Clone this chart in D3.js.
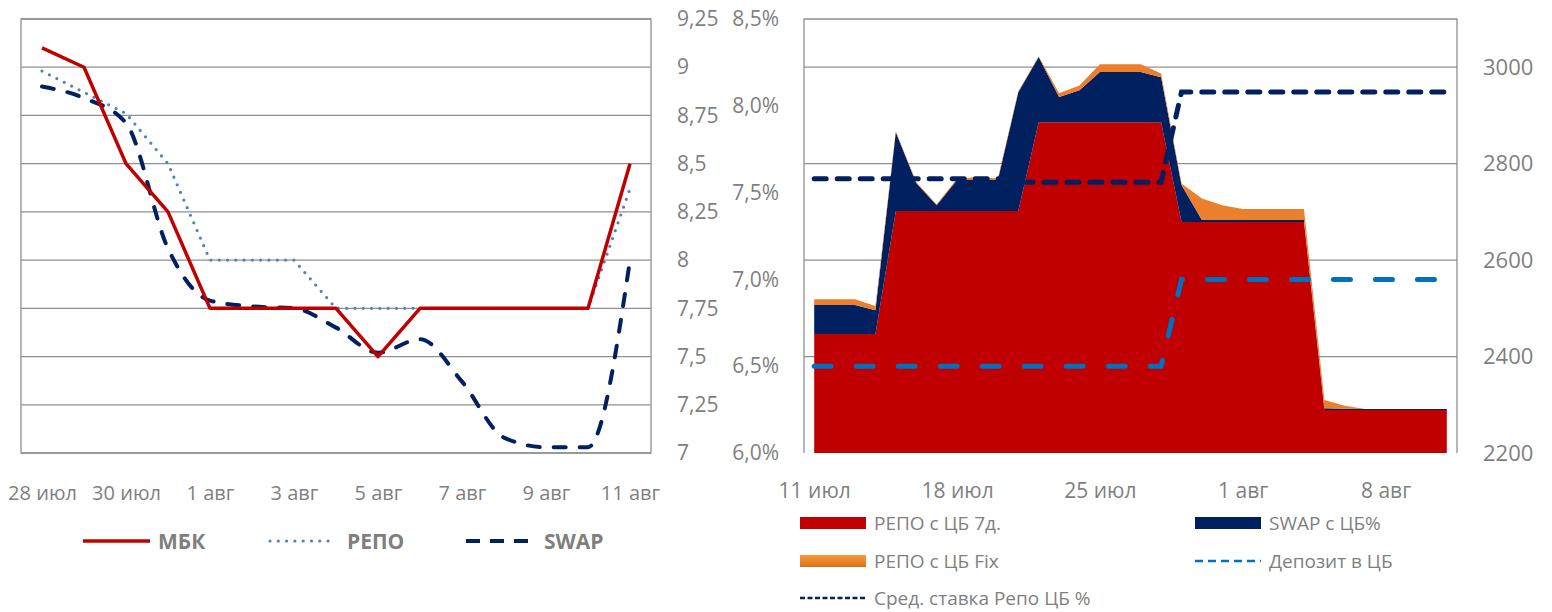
<!DOCTYPE html>
<html>
<head>
<meta charset="utf-8">
<script src="https://cdn.jsdelivr.net/npm/d3@7"></script>
<style>
  body { margin: 0; background: #fff; }
  svg { display: block; }
  text { font-family: "Open Sans", "Noto Sans", sans-serif; fill: #7f7f7f; }
</style>
</head>
<body>
<div id="chart"></div>
<script>
// ---- left chart: interbank rates, % ----
const leftDays = ["28 июл", "29 июл", "30 июл", "31 июл", "1 авг", "2 авг", "3 авг", "4 авг",
                  "5 авг", "6 авг", "7 авг", "8 авг", "9 авг", "10 авг", "11 авг"];
const mbkRate  = [9.10, 9.00, 8.50, 8.25, 7.75, 7.75, 7.75, 7.75, 7.50, 7.75, 7.75, 7.75, 7.75, 7.75, 8.50];
const repoRate = [8.98, 8.87, 8.76, 8.50, 8.00, 8.00, 8.00, 7.75, 7.75, 7.75, 7.75, 7.75, 7.75, 7.75, 8.37];
const swapRate = [8.90, 8.84, 8.71, 8.06, 7.79, 7.76, 7.75, 7.65, 7.52, 7.59, 7.37, 7.08, 7.03, 7.03, 8.00];
const leftTicks = [7, 7.25, 7.5, 7.75, 8, 8.25, 8.5, 8.75, 9, 9.25];

// ---- right chart: CBR operations (volumes) and rates ----
const rightDays = ["2014-07-11", "2014-07-12", "2014-07-13", "2014-07-14", "2014-07-15", "2014-07-16",
                   "2014-07-17", "2014-07-18", "2014-07-19", "2014-07-20", "2014-07-21", "2014-07-22",
                   "2014-07-23", "2014-07-24", "2014-07-25", "2014-07-26", "2014-07-27", "2014-07-28",
                   "2014-07-29", "2014-07-30", "2014-07-31", "2014-08-01", "2014-08-02", "2014-08-03",
                   "2014-08-04", "2014-08-05", "2014-08-06", "2014-08-07", "2014-08-08", "2014-08-09",
                   "2014-08-10", "2014-08-11"];
const repoCb7d  = [2447, 2447, 2447, 2447, 2702, 2702, 2702, 2702, 2702, 2702, 2702, 2886, 2886, 2886, 2886, 2886,
                   2886, 2886, 2679, 2679, 2679, 2679, 2679, 2679, 2679, 2289, 2289, 2289, 2289, 2289, 2289, 2289];
const swapCb    = [60, 60, 60, 49, 163, 58, 12, 64, 64, 64, 246, 135, 52, 66, 104, 104,
                   104, 93, 77, 4, 4, 4, 4, 4, 4, 4, 3, 2, 2, 2, 2, 2];
const repoCbFix = [12, 12, 12, 9, 2, 2, 2, 3, 6, 3, 2, 2, 8, 10, 16, 16,
                   16, 8, 3, 45, 31, 23, 23, 23, 23, 17, 6, 0, 0, 0, 0, 0];
const depositCb = [6.5, 6.5, 6.5, 6.5, 6.5, 6.5, 6.5, 6.5, 6.5, 6.5, 6.5, 6.5, 6.5, 6.5, 6.5, 6.5,
                   6.5, 6.5, 7.0, 7.0, 7.0, 7.0, 7.0, 7.0, 7.0, 7.0, 7.0, 7.0, 7.0, 7.0, 7.0, 7.0];
const avgRepoCb = [7.58, 7.58, 7.58, 7.58, 7.58, 7.58, 7.58, 7.58, 7.58, 7.58, 7.56, 7.56, 7.56, 7.56, 7.56, 7.56,
                   7.56, 7.56, 8.08, 8.08, 8.08, 8.08, 8.08, 8.08, 8.08, 8.08, 8.08, 8.08, 8.08, 8.08, 8.08, 8.08];
const pctTicks  = [6, 6.5, 7, 7.5, 8, 8.5];
const volTicks  = [2200, 2400, 2600, 2800, 3000];
const dateTicks = ["2014-07-11", "2014-07-18", "2014-07-25", "2014-08-01", "2014-08-08"];
const monthsRu  = ["янв", "фев", "мар", "апр", "май", "июн", "июл", "авг", "сен", "окт", "ноя", "дек"];

const gridColor = "#8f8f8f";
const red = "#c00000", navy = "#002060", lightBlue = "#4f81bd", blue = "#0070c0", orange = "#ec7f2c";

const svg = d3.select("#chart").append("svg")
    .attr("width", 1552)
    .attr("height", 612);

const defs = svg.append("defs");
const og = defs.append("linearGradient").attr("id", "orangeGrad")
    .attr("x1", 0).attr("y1", 0).attr("x2", 0).attr("y2", 1);
og.append("stop").attr("offset", "0%").attr("stop-color", "#fb9a3c");
og.append("stop").attr("offset", "100%").attr("stop-color", "#d9711c");

const commaFmt = d => String(d).replace(".", ",");

function styleAxis(g, size) {
    g.select(".domain").remove();
    g.attr("font-size", size).attr("font-family", null);
}

// =================== LEFT CHART ===================
const L = { left: 21, right: 651, top: 19, bottom: 453 };
const xL = d3.scalePoint().domain(leftDays).range([L.left, L.right]).padding(0.5);
const yL = d3.scaleLinear().domain([7, 9.25]).range([L.bottom, L.top]);

// gridlines + frame
svg.append("g").selectAll("line")
    .data(leftTicks)
    .join("line")
    .attr("x1", L.left).attr("x2", L.right)
    .attr("y1", d => yL(d)).attr("y2", d => yL(d))
    .attr("stroke", gridColor).attr("stroke-width", 1.3);
svg.append("rect")
    .attr("x", L.left).attr("y", L.top)
    .attr("width", L.right - L.left).attr("height", L.bottom - L.top)
    .attr("fill", "none").attr("stroke", gridColor).attr("stroke-width", 1.3);

// axes
svg.append("g")
    .attr("transform", "translate(" + L.right + ",0)")
    .call(d3.axisRight(yL).tickValues(leftTicks).tickFormat(commaFmt).tickSize(0).tickPadding(26))
    .call(g => styleAxis(g, 21));
svg.append("g")
    .attr("transform", "translate(0," + L.bottom + ")")
    .call(d3.axisBottom(xL).tickValues(leftDays.filter((d, i) => i % 2 === 0)).tickSize(0).tickPadding(33))
    .call(g => styleAxis(g, 20));

// lines
const lineL = d3.line().x((d, i) => xL(leftDays[i])).y(d => yL(d));
svg.append("path")
    .datum(swapRate)
    .attr("fill", "none").attr("stroke", navy).attr("stroke-width", 4)
    .attr("stroke-dasharray", "12,14").attr("stroke-linecap", "round")
    .attr("d", lineL.curve(d3.curveMonotoneX));
svg.append("path")
    .datum(repoRate)
    .attr("fill", "none").attr("stroke", lightBlue).attr("stroke-width", 3.2)
    .attr("stroke-dasharray", "0,8.3").attr("stroke-linecap", "round")
    .attr("d", d3.line().x((d, i) => xL(leftDays[i])).y(d => yL(d)));
svg.append("path")
    .datum(mbkRate)
    .attr("fill", "none").attr("stroke", red).attr("stroke-width", 3.5)
    .attr("stroke-linejoin", "round")
    .attr("d", d3.line().x((d, i) => xL(leftDays[i])).y(d => yL(d)));

// left legend
const leftLegend = [
    { name: "МБК",  x0: 83,  x1: 150, tx: 158, color: red,       width: 3.5, dash: null },
    { name: "РЕПО", x0: 270, x1: 332, tx: 347, color: lightBlue, width: 3.2, dash: "0,8.3" },
    { name: "SWAP", x0: 466, x1: 530, tx: 544, color: navy,      width: 4,   dash: "14,10" }
];
const ll = svg.append("g").selectAll("g").data(leftLegend).join("g");
ll.append("line")
    .attr("x1", d => d.x0).attr("x2", d => d.x1)
    .attr("y1", 541).attr("y2", 541)
    .attr("stroke", d => d.color).attr("stroke-width", d => d.width)
    .attr("stroke-dasharray", d => d.dash)
    .attr("stroke-linecap", d => d.dash === "0,8.3" ? "round" : "butt");
ll.append("text")
    .attr("x", d => d.tx).attr("y", 541)
    .attr("dominant-baseline", "central")
    .attr("font-size", 21).attr("font-weight", "bold")
    .text(d => d.name);

// =================== RIGHT CHART ===================
const R = { left: 804, right: 1457, top: 19, bottom: 453 };
const parseDay = d3.timeParse("%Y-%m-%d");
const dates = rightDays.map(parseDay);
const xR = d3.scaleTime()
    .domain([d3.timeHour.offset(dates[0], -12), d3.timeHour.offset(dates[dates.length - 1], 12)])
    .range([R.left, R.right]);
const yPct = d3.scaleLinear().domain([6, 8.5]).range([R.bottom, R.top]);
const yVol = d3.scaleLinear().domain([2200, 3100]).range([R.bottom, R.top]);
const volMin = yVol.domain()[0];

// gridlines (volume axis) + frame without bottom
svg.append("g").selectAll("line")
    .data(volTicks.filter(d => d > volMin))
    .join("line")
    .attr("x1", R.left).attr("x2", R.right)
    .attr("y1", d => yVol(d)).attr("y2", d => yVol(d))
    .attr("stroke", gridColor).attr("stroke-width", 1.3);
svg.append("path")
    .attr("d", "M" + R.left + "," + R.bottom + "V" + R.top + "H" + R.right + "V" + R.bottom)
    .attr("fill", "none").attr("stroke", gridColor).attr("stroke-width", 1.3);

// stacked areas (the axis starts at 2200, so the base is cut there)
const rows = dates.map((d, i) => ({ date: d, repo7d: repoCb7d[i], swap: swapCb[i], fix: repoCbFix[i] }));
const stack = d3.stack().keys(["repo7d", "swap", "fix"])(rows);
const fills = { repo7d: red, swap: navy, fix: orange };
const area = d3.area()
    .x(d => xR(d.data.date))
    .y0(d => yVol(Math.max(d[0], volMin)))
    .y1(d => yVol(Math.max(d[1], volMin)));
svg.append("g").selectAll("path")
    .data(stack)
    .join("path")
    .attr("fill", d => fills[d.key])
    .attr("d", area);

// rate lines
const lineR = vals => d3.line().x((d, i) => xR(dates[i])).y(d => yPct(d))(vals);
svg.append("path")
    .attr("d", lineR(depositCb))
    .attr("fill", "none").attr("stroke", blue).attr("stroke-width", 5)
    .attr("stroke-dasharray", "17,25").attr("stroke-linecap", "round");
svg.append("path")
    .attr("d", lineR(avgRepoCb))
    .attr("fill", "none").attr("stroke", navy).attr("stroke-width", 5)
    .attr("stroke-dasharray", "12,11").attr("stroke-linecap", "round");

// axes
svg.append("g")
    .attr("transform", "translate(" + R.left + ",0)")
    .call(d3.axisLeft(yPct).tickValues(pctTicks).tickFormat(d => d.toFixed(1).replace(".", ",") + "%").tickSize(0).tickPadding(25))
    .call(g => styleAxis(g, 21));
svg.append("g")
    .attr("transform", "translate(" + R.right + ",0)")
    .call(d3.axisRight(yVol).tickValues(volTicks).tickFormat(d3.format("d")).tickSize(0).tickPadding(26))
    .call(g => styleAxis(g, 22));
svg.append("g")
    .attr("transform", "translate(0," + R.bottom + ")")
    .call(d3.axisBottom(xR).tickValues(dateTicks.map(parseDay))
        .tickFormat(d => d.getDate() + " " + monthsRu[d.getMonth()])
        .tickSize(0).tickPadding(30))
    .call(g => styleAxis(g, 21));

// right legend
const rightLegend = [
    { name: "РЕПО с ЦБ 7д.",          x: 800,  y: 523, kind: "rect", color: red },
    { name: "SWAP с ЦБ%",             x: 1195, y: 523, kind: "rect", color: navy },
    { name: "РЕПО с ЦБ Fix",          x: 800,  y: 561, kind: "rect", color: "url(#orangeGrad)" },
    { name: "Депозит в ЦБ",           x: 1195, y: 561, kind: "line", color: blue, dash: "8,5", w: 2.5 },
    { name: "Сред. ставка Репо ЦБ %", x: 800,  y: 598, kind: "line", color: navy, dash: "5,2.5", w: 2.5 }
];
const rl = svg.append("g").selectAll("g").data(rightLegend).join("g");
rl.filter(d => d.kind === "rect").append("rect")
    .attr("x", d => d.x).attr("y", d => d.y - 6)
    .attr("width", 66).attr("height", 12)
    .attr("fill", d => d.color);
rl.filter(d => d.kind === "line").append("line")
    .attr("x1", d => d.x).attr("x2", d => d.x + 66)
    .attr("y1", d => d.y).attr("y2", d => d.y)
    .attr("stroke", d => d.color).attr("stroke-width", d => d.w)
    .attr("stroke-dasharray", d => d.dash);
rl.append("text")
    .attr("x", d => d.x + 74).attr("y", d => d.y)
    .attr("dominant-baseline", "central")
    .attr("font-size", 19)
    .text(d => d.name);
</script>
</body>
</html>
